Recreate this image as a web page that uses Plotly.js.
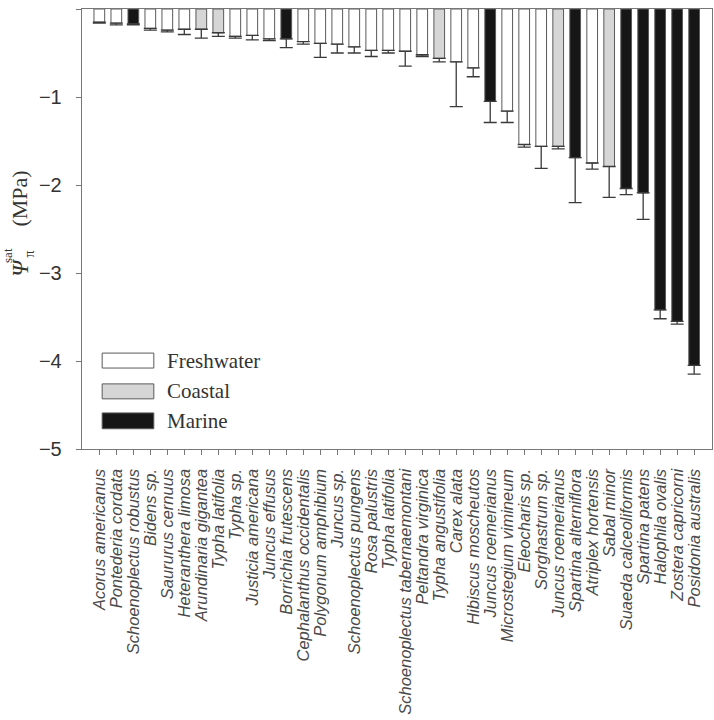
<!DOCTYPE html>
<html>
<head>
<meta charset="utf-8">
<script src="https://cdn.plot.ly/plotly-3.0.1.min.js"></script>
<style>html,body{margin:0;padding:0;background:#fff;}#chart{width:714px;height:720px;}</style>
</head>
<body>
<div id="chart"></div>
<script>
const species = [
  "Acorus americanus", "Pontederia cordata", "Schoenoplectus robustus", "Bidens sp.",
  "Saururus cernuus", "Heteranthera limosa", "Arundinaria gigantea", "Typha latifolia",
  "Typha sp.", "Justicia americana", "Juncus effusus", "Borrichia frutescens",
  "Cephalanthus occidentalis", "Polygonum amphibium", "Juncus sp.", "Schoenoplectus pungens",
  "Rosa palustris", "Typha latifolia", "Schoenoplectus tabernaemontani", "Peltandra virginica",
  "Typha angustifolia", "Carex alata", "Hibiscus moscheutos", "Juncus roemerianus",
  "Microstegium vimineum", "Eleocharis sp.", "Sorghastrum sp.", "Juncus roemerianus",
  "Spartina alterniflora", "Atriplex hortensis", "Sabal minor", "Suaeda calceoliformis",
  "Spartina patens", "Halophila ovalis", "Zostera capricorni", "Posidonia australis"
];
const habitat = [
  "F","F","M","F","F","F","C","C","F","F","F","M",
  "F","F","F","F","F","F","F","F","C","F","F","M",
  "F","F","F","C","M","F","C","M","M","M","M","M"
];
const psiSat = [
  -0.15, -0.16, -0.17, -0.22, -0.24, -0.23, -0.23, -0.27, -0.31, -0.30, -0.34, -0.34,
  -0.37, -0.39, -0.40, -0.43, -0.47, -0.47, -0.48, -0.52, -0.56, -0.60, -0.67, -1.05,
  -1.16, -1.54, -1.56, -1.56, -1.69, -1.75, -1.79, -2.04, -2.09, -3.42, -3.55, -4.05
];
const psiErr = [
  0.01, 0.02, 0.01, 0.02, 0.02, 0.06, 0.10, 0.04, 0.02, 0.05, 0.02, 0.10,
  0.03, 0.16, 0.10, 0.07, 0.07, 0.03, 0.17, 0.02, 0.04, 0.51, 0.10, 0.24,
  0.13, 0.03, 0.25, 0.03, 0.51, 0.07, 0.35, 0.07, 0.30, 0.10, 0.03, 0.10
];
const legendNames = ["Freshwater", "Coastal", "Marine"];
const legendKeys = ["F", "C", "M"];

const fillColors = {F: "#ffffff", C: "#d6d6d6", M: "#161616"};
const positions = species.map((_, i) => i);

const trace = {
  type: "bar",
  x: positions,
  y: psiSat,
  width: 0.63,
  marker: {
    color: habitat.map(h => fillColors[h]),
    line: {color: "#5a5a5a", width: 1}
  },
  error_y: {
    type: "data",
    symmetric: false,
    array: psiErr.map(() => 0),
    arrayminus: psiErr,
    color: "#3a3a3a",
    thickness: 1.3,
    width: 6.5
  },
  showlegend: false,
  hoverinfo: "x+y"
};

const serif = "Liberation Serif, Times New Roman, serif";

// custom legend (wide swatches like the reference)
const legY = [[0.218, 0.184], [0.148, 0.114], [0.082, 0.046]];
const shapes = legendKeys.map((k, i) => ({
  type: "rect", xref: "paper", yref: "paper",
  x0: 0.032, x1: 0.114, y0: legY[i][1], y1: legY[i][0],
  fillcolor: fillColors[k], line: {color: "#5a5a5a", width: 1}
}));
const annotations = legendNames.map((n, i) => ({
  xref: "paper", yref: "paper", x: 0.131, y: (legY[i][0] + legY[i][1]) / 2,
  xanchor: "left", yanchor: "middle", showarrow: false, text: n,
  font: {family: serif, size: 21, color: "#333"}
}));

// y-axis title built from pieces so that sub- and superscript stack
const titleParts = [
  {text: "(MPa)", x: -0.0992, y: 0.568, size: 22, style: "normal"},
  {text: "Ψ", x: -0.0968, y: 0.412, size: 23, style: "italic"},
  {text: "sat", x: -0.1175, y: 0.441, size: 13, style: "normal"},
  {text: "π", x: -0.0833, y: 0.443, size: 14, style: "normal"}
];
titleParts.forEach(p => annotations.push({
  xref: "paper", yref: "paper", x: p.x, y: p.y,
  xanchor: "center", yanchor: "middle", showarrow: false,
  text: p.text, textangle: -90,
  font: {family: serif, size: p.size, color: "#333", style: p.style}
}));

const layout = {
  width: 714, height: 720,
  margin: {l: 82, r: 2, t: 9, b: 271, pad: 0},
  paper_bgcolor: "#fff", plot_bgcolor: "#fff",
  bargap: 0.37,
  xaxis: {
    range: [-1.02, 36.05],
    tickmode: "array",
    tickvals: positions,
    ticktext: species,
    tickangle: -90,
    ticks: "outside", ticklen: 5, tickcolor: "#777", tickwidth: 1,
    ticklabelstandoff: 7,
    tickfont: {family: "Liberation Sans, Arial, sans-serif", size: 16.5, color: "#4a4a4a", style: "italic"},
    showline: true, linecolor: "#777", linewidth: 1.3, mirror: true,
    showgrid: false, zeroline: false, fixedrange: true
  },
  yaxis: {
    range: [-5, 0],
    tickmode: "linear", tick0: 0, dtick: 1,
    ticks: "outside", ticklen: 5, tickcolor: "#777", tickwidth: 1,
    ticklabelstandoff: 10,
    tickfont: {family: "Liberation Sans, Arial, sans-serif", size: 20, color: "#333"},
    showline: true, linecolor: "#777", linewidth: 1.3, mirror: true,
    showgrid: false, zeroline: false, fixedrange: true
  },
  shapes: shapes,
  annotations: annotations
};

Plotly.newPlot("chart", [trace], layout, {displayModeBar: false, staticPlot: true});
</script>
</body>
</html>
